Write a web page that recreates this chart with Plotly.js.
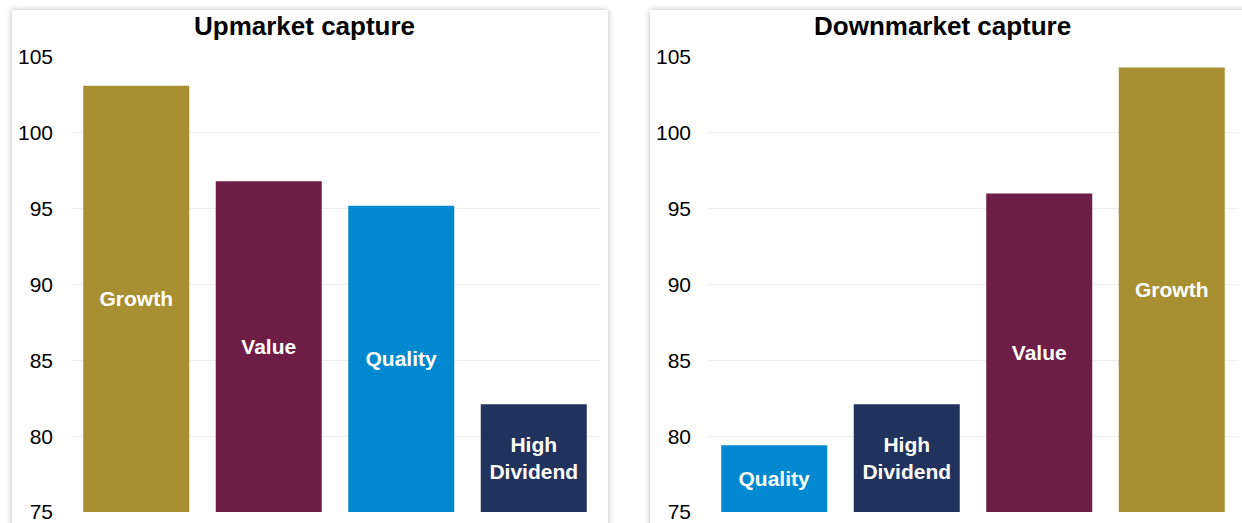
<!DOCTYPE html>
<html>
<head>
<meta charset="utf-8">
<script src="https://cdn.plot.ly/plotly-3.0.1.min.js"></script>
<style>
  html, body { margin: 0; padding: 0; background: #ffffff; }
  #wrap { position: relative; width: 1242px; height: 523px; overflow: hidden; }
  .card { position: absolute; background: #ffffff; box-shadow: 0 0 6px rgba(0,0,0,0.28); }
  #chart { position: absolute; left: 0; top: 0; width: 1242px; height: 523px; }
</style>
</head>
<body>
<div id="wrap">
  <div class="card" style="left:12px; top:10px; width:596px; height:540px;"></div>
  <div class="card" style="left:650px; top:10px; width:620px; height:540px;"></div>
  <div id="chart"></div>
</div>
<script>
// ---- Data ----
const upTitle = 'Upmarket capture';
const downTitle = 'Downmarket capture';
const upCategories = ['Growth', 'Value', 'Quality', 'High Dividend'];
const upValues = [103.1, 96.8, 95.2, 82.1];
const downCategories = ['Quality', 'High Dividend', 'Value', 'Growth'];
const downValues = [79.4, 82.1, 96.0, 104.3];
const yTickValues = [75, 80, 85, 90, 95, 100, 105];
const yMin = 75, yMax = 105;

// ---- Styles ----
const colorMap = {
  'Growth': '#A89032',
  'Value': '#6E1D46',
  'Quality': '#0088D1',
  'High Dividend': '#21335C'
};
const FONT = 'Liberation Sans, Arial, Helvetica, sans-serif';

function barTrace(cats, vals, xa, ya) {
  return {
    type: 'bar',
    x: cats,
    y: vals.map(v => v - yMin),
    base: yMin,
    xaxis: xa,
    yaxis: ya,
    marker: { color: cats.map(c => colorMap[c]) },
    text: cats.map(c => c.replace(' ', '<br>')),
    textposition: 'inside',
    insidetextanchor: 'middle',
    textangle: 0,
    constraintext: 'none',
    textfont: { family: FONT, size: 21, color: '#ffffff', weight: 'bold' },
    hoverinfo: 'skip',
    showlegend: false
  };
}

const W = 1242;
const yAxisCommon = {
  range: [yMin, yMax],
  tickvals: yTickValues,
  showgrid: true,
  gridcolor: '#eeeeee',
  gridwidth: 1,
  zeroline: false,
  showline: false,
  ticks: '',
  ticklabelstandoff: 16,
  ticklabeloverflow: 'allow',
  tickfont: { family: FONT, size: 21, color: '#000000' },
  fixedrange: true
};
const xAxisCommon = {
  type: 'category',
  range: [-0.5, 3.5],
  showticklabels: false,
  showgrid: false,
  zeroline: false,
  showline: false,
  ticks: '',
  fixedrange: true
};

const layout = {
  width: 1242,
  height: 523,
  margin: { l: 0, r: 0, t: 57, b: 11 },
  paper_bgcolor: 'rgba(0,0,0,0)',
  plot_bgcolor: 'rgba(0,0,0,0)',
  bargap: 0.2,
  xaxis: Object.assign({}, xAxisCommon, { domain: [70 / W, 600 / W], anchor: 'y' }),
  yaxis: Object.assign({}, yAxisCommon, { anchor: 'x' }),
  xaxis2: Object.assign({}, xAxisCommon, { domain: [708 / W, 1238 / W], anchor: 'y2' }),
  yaxis2: Object.assign({}, yAxisCommon, { anchor: 'x2' }),
  annotations: [
    { text: '<b>' + upTitle + '</b>', xref: 'paper', yref: 'paper', x: 304 / W, y: 1, yshift: 31,
      xanchor: 'center', yanchor: 'middle', showarrow: false,
      font: { family: FONT, size: 26, color: '#000000' } },
    { text: '<b>' + downTitle + '</b>', xref: 'paper', yref: 'paper', x: 942 / W, y: 1, yshift: 31,
      xanchor: 'center', yanchor: 'middle', showarrow: false,
      font: { family: FONT, size: 26, color: '#000000' } }
  ]
};

Plotly.newPlot('chart', [
  barTrace(upCategories, upValues, 'x', 'y'),
  barTrace(downCategories, downValues, 'x2', 'y2')
], layout, { displayModeBar: false, staticPlot: true });
</script>
</body>
</html>
